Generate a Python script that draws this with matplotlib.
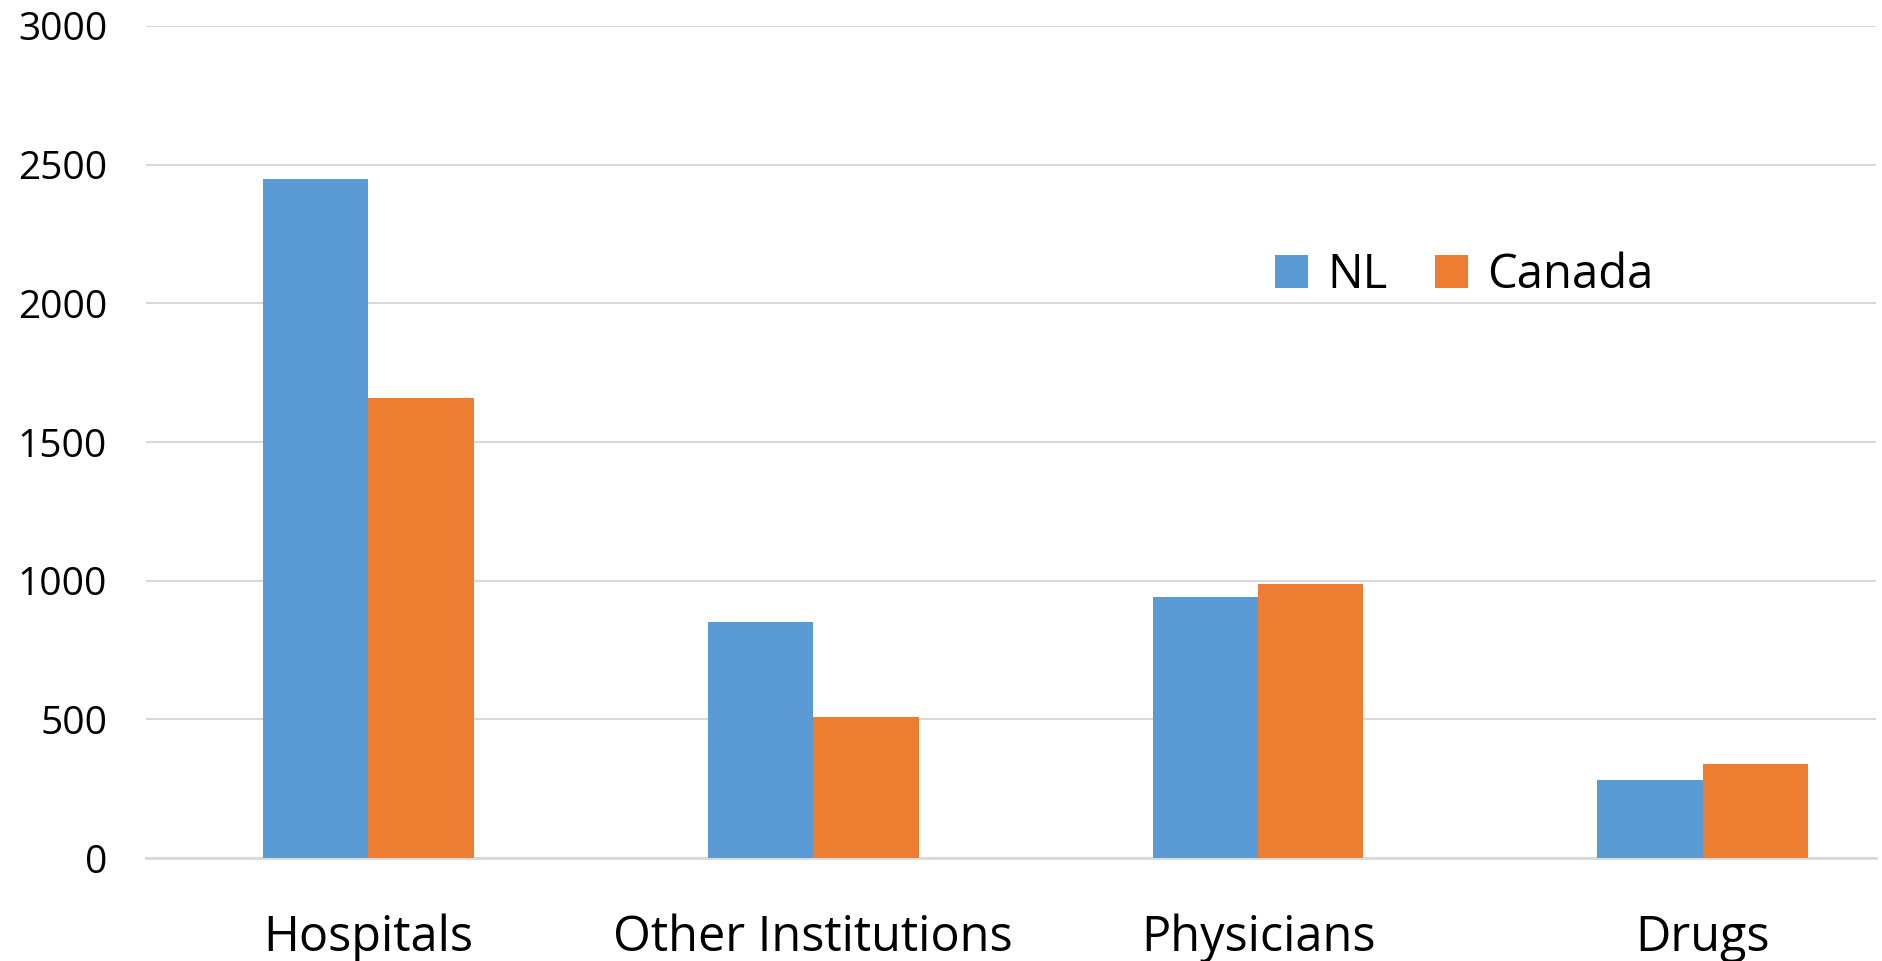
import matplotlib.pyplot as plt
import numpy as np

categories = ["Hospitals", "Other Institutions", "Physicians", "Drugs"]
nl = [2448, 850, 942, 283]
canada = [1658, 508, 989, 338]

plt.rcParams['font.family'] = ['Open Sans', 'DejaVu Sans']

fig = plt.figure(figsize=(18.82, 9.61), dpi=100)
ax = fig.add_axes([0.0776, 0.107, 0.9194, 0.866])

x = np.arange(len(categories))
w = 0.237
ax.bar(x - w/2, nl, width=w, color='#5B9BD5', label='NL', zorder=3)
ax.bar(x + w/2, canada, width=w, color='#ED7D31', label='Canada', zorder=3)

ax.set_xlim(-0.5, 3.39)
ax.set_ylim(0, 3000)
ax.set_yticks(range(0, 3001, 500))
ax.yaxis.grid(True, color='#D9D9D9', linewidth=1.5, zorder=0)
ax.set_xticks(x)
ax.set_xticklabels(categories, fontsize=35)
ax.tick_params(axis='y', labelsize=28, length=0, pad=28)
ax.tick_params(axis='x', length=0, pad=40)
for s in ['top', 'right', 'left']:
    ax.spines[s].set_visible(False)
ax.spines['bottom'].set_color('#D9D9D9')
ax.spines['bottom'].set_linewidth(2)

fig.legend(loc='center', bbox_to_anchor=(0.778, 0.714), ncol=2, frameon=False,
           fontsize=34, handlelength=0.7, handleheight=0.7, handletextpad=0.4,
           columnspacing=1.0)

fig.savefig("out.png", dpi=100)
